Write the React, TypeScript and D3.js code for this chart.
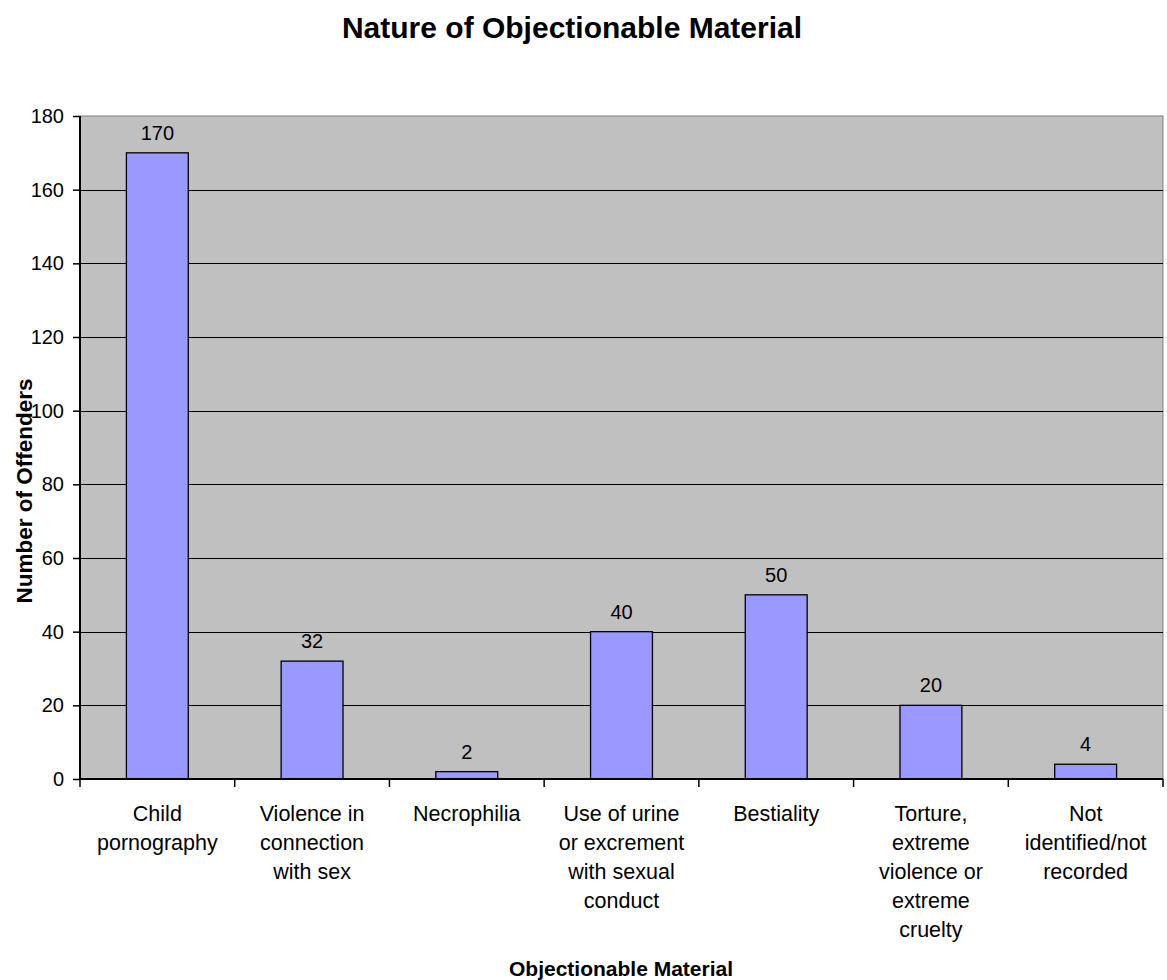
import React, { useEffect, useRef } from "react";
import * as d3 from "d3";

const categories = [
  ["Child", "pornography"],
  ["Violence in", "connection", "with sex"],
  ["Necrophilia"],
  ["Use of urine", "or excrement", "with sexual", "conduct"],
  ["Bestiality"],
  ["Torture,", "extreme", "violence or", "extreme", "cruelty"],
  ["Not", "identified/not", "recorded"],
];
const values = [170, 32, 2, 40, 50, 20, 4];
const yTicks = [0, 20, 40, 60, 80, 100, 120, 140, 160, 180];

const W = 1167;
const H = 980;
const left = 80;
const right = 1163;
const top = 116;
const bottom = 779;
const font = "Liberation Sans, Arial, sans-serif";

const App = () => {
  const ref = useRef<SVGSVGElement>(null);

  useEffect(() => {
    const svg = d3.select(ref.current);
    svg.selectAll("*").remove();

    const x = d3
      .scaleBand<number>()
      .domain(d3.range(values.length))
      .range([left, right])
      .paddingInner(0)
      .paddingOuter(0);
    const y = d3.scaleLinear().domain([0, 180]).range([bottom, top]);
    const barW = x.bandwidth() * 0.4;

    svg
      .append("rect")
      .attr("x", left)
      .attr("y", top)
      .attr("width", right - left)
      .attr("height", bottom - top)
      .attr("fill", "#c0c0c0")
      .attr("stroke", "#808080")
      .attr("stroke-width", 1);

    // gridlines
    svg
      .append("g")
      .selectAll("line")
      .data(yTicks.slice(1, -1))
      .join("line")
      .attr("x1", left)
      .attr("x2", right)
      .attr("y1", (d) => Math.round(y(d)) + 0.5)
      .attr("y2", (d) => Math.round(y(d)) + 0.5)
      .attr("stroke", "#000")
      .attr("stroke-width", 1);

    // bars
    svg
      .append("g")
      .selectAll("rect")
      .data(values)
      .join("rect")
      .attr("x", (d, i) => x(i)! + (x.bandwidth() - barW) / 2)
      .attr("y", (d) => y(d))
      .attr("width", barW)
      .attr("height", (d) => bottom - y(d))
      .attr("fill", "#9999ff")
      .attr("stroke", "#000")
      .attr("stroke-width", 1.3);

    // value labels
    svg
      .append("g")
      .selectAll("text")
      .data(values)
      .join("text")
      .attr("x", (d, i) => x(i)! + x.bandwidth() / 2)
      .attr("y", (d) => y(d) - 13)
      .attr("text-anchor", "middle")
      .attr("font-family", font)
      .attr("font-size", 20)
      .attr("fill", "#000")
      .text((d) => d);

    // y axis
    const yAxis = svg
      .append("g")
      .attr("transform", `translate(${left},0)`)
      .call(d3.axisLeft(y).tickValues(yTicks).tickSize(7).tickPadding(9));
    yAxis.select(".domain").attr("stroke", "#000").attr("stroke-width", 2).attr("d", `M0,${top}V${bottom}`);
    yAxis.selectAll(".tick line").attr("stroke", "#000").attr("stroke-width", 1.5);
    yAxis
      .selectAll(".tick text")
      .attr("font-family", font)
      .attr("font-size", 20)
      .attr("fill", "#000");

    // x axis line and ticks
    svg
      .append("line")
      .attr("x1", left)
      .attr("x2", right)
      .attr("y1", bottom)
      .attr("y2", bottom)
      .attr("stroke", "#000")
      .attr("stroke-width", 2);
    const bounds = d3.range(values.length + 1).map((i) => (i < values.length ? x(i)! : right));
    svg
      .append("g")
      .selectAll("line")
      .data(bounds)
      .join("line")
      .attr("x1", (d) => d)
      .attr("x2", (d) => d)
      .attr("y1", bottom)
      .attr("y2", bottom + 8)
      .attr("stroke", "#000")
      .attr("stroke-width", 1.5);

    // category labels
    const cat = svg
      .append("g")
      .selectAll("text")
      .data(categories)
      .join("text")
      .attr("x", (d, i) => x(i)! + x.bandwidth() / 2)
      .attr("y", 821)
      .attr("text-anchor", "middle")
      .attr("font-family", font)
      .attr("font-size", 21.5)
      .attr("fill", "#000");
    cat
      .selectAll("tspan")
      .data((d) => d)
      .join("tspan")
      .attr("x", function () {
        return (this.parentNode as SVGTextElement).getAttribute("x");
      })
      .attr("dy", (d, i) => (i === 0 ? 0 : 29))
      .text((d) => d);

    // titles
    svg
      .append("text")
      .attr("x", 572)
      .attr("y", 38)
      .attr("text-anchor", "middle")
      .attr("font-family", font)
      .attr("font-weight", "bold")
      .attr("font-size", 30)
      .text("Nature of Objectionable Material");

    svg
      .append("text")
      .attr("x", 621)
      .attr("y", 976)
      .attr("text-anchor", "middle")
      .attr("font-family", font)
      .attr("font-weight", "bold")
      .attr("font-size", 21)
      .text("Objectionable Material");

    svg
      .append("text")
      .attr("transform", `translate(32,491) rotate(-90)`)
      .attr("text-anchor", "middle")
      .attr("font-family", font)
      .attr("font-weight", "bold")
      .attr("font-size", 22.5)
      .text("Number of Offenders");
  }, []);

  return (
    <svg
      ref={ref}
      width={W}
      height={H}
      style={{ position: "absolute", left: 0, top: 0, background: "#fff" }}
    />
  );
};

export default App;
